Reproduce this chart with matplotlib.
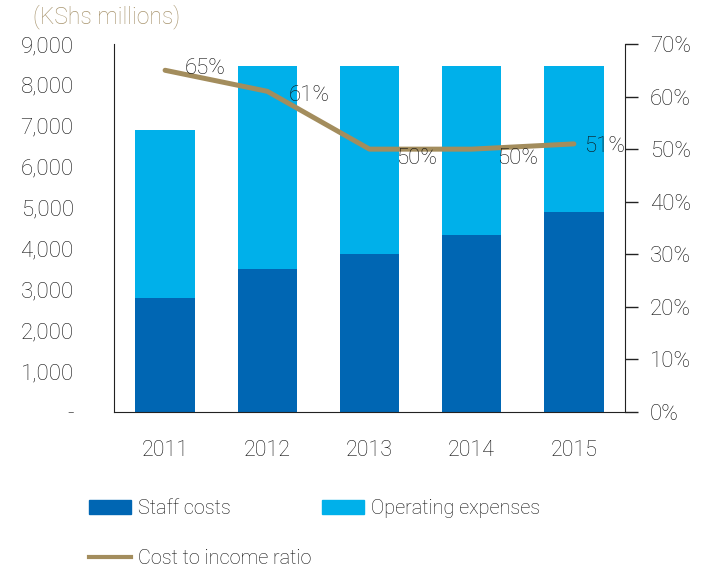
import matplotlib.pyplot as plt
from matplotlib.patches import Patch
from matplotlib.lines import Line2D
from matplotlib.ticker import FuncFormatter, MultipleLocator

plt.rcParams['font.family'] = ['Roboto', 'DejaVu Sans']
plt.rcParams['font.weight'] = 'light'

years = ["2011", "2012", "2013", "2014", "2015"]
staff_costs = [2800, 3500, 3870, 4335, 4890]
operating_expenses = [4100, 4960, 4590, 4125, 3570]
cost_income_ratio = [65, 61, 50, 50, 51]

dark_blue = "#0066b3"
light_blue = "#00b0ea"
gold = "#a38d5d"
text_col = "#111111"

fig = plt.figure(figsize=(7.14, 5.72), dpi=100)
ax = fig.add_axes([114 / 714, 1 - 412 / 572, 511 / 714, 368 / 572])
ax2 = ax.twinx()

x = list(range(len(years)))
ax.bar(x, staff_costs, width=0.58, color=dark_blue, zorder=2)
ax.bar(x, operating_expenses, width=0.58, bottom=staff_costs, color=light_blue, zorder=2)

ax.set_xlim(-0.5, len(years) - 0.5)
ax.set_ylim(0, 9000)
ax.yaxis.set_major_locator(MultipleLocator(1000))
ax.yaxis.set_major_formatter(FuncFormatter(lambda v, p: "-" if v == 0 else f"{v:,.0f}"))
ax.set_xticks(x)
ax.set_xticklabels(years)
ax.tick_params(axis="y", length=0, pad=29, labelsize=16, labelcolor=text_col)
ax.tick_params(axis="x", length=0, pad=20, labelsize=15.5, labelcolor=text_col)
for s in ["top", "right"]:
    ax.spines[s].set_visible(False)
ax.spines["left"].set_color("#222222")
ax.spines["bottom"].set_color("#222222")

# ratio line on the percentage axis
ax2.plot(x, cost_income_ratio, color=gold, linewidth=3.6, solid_capstyle="round", zorder=3)
ax2.set_ylim(0, 70)
ax2.yaxis.set_major_locator(MultipleLocator(10))
ax2.yaxis.set_major_formatter(FuncFormatter(lambda v, p: f"{v:.0f}%"))
ax2.tick_params(axis="y", length=9, width=1, pad=9, labelsize=16, labelcolor=text_col, color="#222222")
for s in ["top", "left", "bottom"]:
    ax2.spines[s].set_visible(False)
ax2.spines["right"].set_color("#222222")

label_offsets = [(14, 1), (15, -3), (19, -7), (18, -7), (7, -2)]
for xi, v, off in zip(x, cost_income_ratio, label_offsets):
    ax2.annotate(f"{v}%", (xi, v), xytext=off, textcoords="offset points",
                 ha="left", va="center", fontsize=16, color=text_col)

fig.text(33 / 714, 1 - 17 / 572, "(KShs millions)", fontsize=16.5, color="#a99670",
         ha="left", va="center")

handles = [Patch(color=dark_blue), Line2D([], [], color=gold, linewidth=3),
           Patch(color=light_blue)]
labels = ["Staff costs", "Cost to income ratio", "Operating expenses"]
fig.legend(handles, labels, ncol=2, loc="upper left", frameon=False,
           bbox_to_anchor=(89 / 714, 1 - 499 / 572), borderpad=0, borderaxespad=0,
           handlelength=2.1, handleheight=0.72, handletextpad=0.35, columnspacing=0.55,
           labelspacing=1.55, fontsize=14.3, labelcolor=text_col)

fig.savefig("out.png", dpi=100)
